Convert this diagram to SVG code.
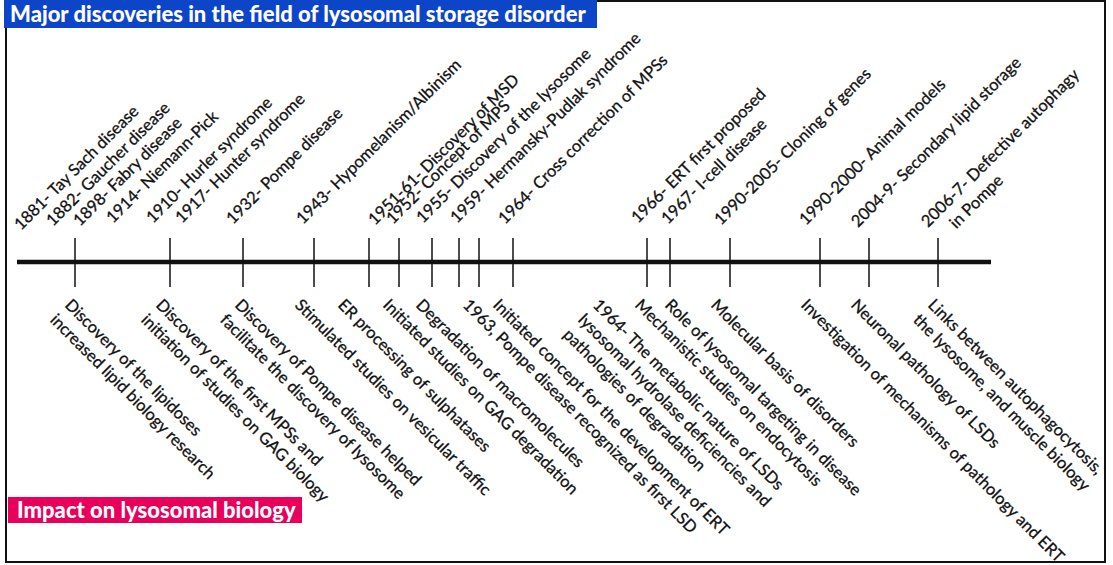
<svg xmlns="http://www.w3.org/2000/svg" width="1113" height="565" viewBox="0 0 1113 565">
<style>
.lbl{font-family:Lato,"Liberation Sans",sans-serif;font-size:16.5px;fill:#111;stroke:#111;stroke-width:0.3}
.hdr{font-family:Lato,"Liberation Sans",sans-serif;font-size:22px;font-weight:900;fill:#fff}
.tick{stroke:#111;stroke-width:1.5}
</style>
<rect x="0" y="0" width="1113" height="565" fill="#fff"/>
<rect x="6" y="1" width="1099" height="561" fill="none" stroke="#111" stroke-width="2"/>
<g id="title-top">
<rect x="4" y="0" width="593" height="28" fill="#0d45c8"/>
<text class="hdr" x="10" y="22">Major discoveries in the field of lysosomal storage disorder</text>
</g>
<g id="title-bottom">
<rect x="8" y="497" width="294" height="26" fill="#e8005a"/>
<text class="hdr" x="17" y="518">Impact on lysosomal biology</text>
</g>
<g id="connectors">
<line x1="17" y1="262" x2="991" y2="262" stroke="#111" stroke-width="4.5"/>
<line class="tick" x1="75" y1="238" x2="75" y2="287"/>
<line class="tick" x1="170" y1="238" x2="170" y2="287"/>
<line class="tick" x1="243" y1="238" x2="243" y2="287"/>
<line class="tick" x1="314" y1="238" x2="314" y2="287"/>
<line class="tick" x1="369" y1="238" x2="369" y2="287"/>
<line class="tick" x1="399" y1="238" x2="399" y2="287"/>
<line class="tick" x1="432" y1="238" x2="432" y2="287"/>
<line class="tick" x1="459" y1="238" x2="459" y2="287"/>
<line class="tick" x1="479" y1="238" x2="479" y2="287"/>
<line class="tick" x1="513" y1="238" x2="513" y2="287"/>
<line class="tick" x1="647" y1="238" x2="647" y2="287"/>
<line class="tick" x1="670" y1="238" x2="670" y2="287"/>
<line class="tick" x1="730" y1="238" x2="730" y2="287"/>
<line class="tick" x1="820" y1="238" x2="820" y2="287"/>
<line class="tick" x1="869" y1="238" x2="869" y2="287"/>
<line class="tick" x1="938" y1="238" x2="938" y2="287"/>
</g>
<g id="top-labels">
<g id="t1881"><text class="lbl" transform="translate(21,231) rotate(-45)">1881- Tay Sach disease</text></g>
<g id="t1882"><text class="lbl" transform="translate(53,227) rotate(-45)">1882- Gaucher disease</text></g>
<g id="t1898"><text class="lbl" transform="translate(80,227) rotate(-45)">1898- Fabry disease</text></g>
<g id="t1914"><text class="lbl" transform="translate(113,224) rotate(-45)">1914- Niemann-Pick</text></g>
<g id="t1910"><text class="lbl" transform="translate(153,224) rotate(-45)">1910- Hurler syndrome</text></g>
<g id="t1917"><text class="lbl" transform="translate(182,224) rotate(-45)">1917- Hunter syndrome</text></g>
<g id="t1932"><text class="lbl" transform="translate(233,225) rotate(-45)">1932- Pompe disease</text></g>
<g id="t1943"><text class="lbl" transform="translate(303,225) rotate(-45)">1943- Hypomelanism/Albinism</text></g>
<g id="t1951"><text class="lbl" transform="translate(375,226) rotate(-45)">1951-61- Discovery of MSD</text></g>
<g id="t1952"><text class="lbl" transform="translate(393,225) rotate(-45)">1952- Concept of MPS</text></g>
<g id="t1955"><text class="lbl" transform="translate(423,224) rotate(-45)">1955- Discovery of the lysosome</text></g>
<g id="t1959"><text class="lbl" transform="translate(457,224) rotate(-45)">1959- Hermansky-Pudlak syndrome</text></g>
<g id="t1964"><text class="lbl" transform="translate(505,225) rotate(-45)">1964- Cross correction of MPSs</text></g>
<g id="t1966"><text class="lbl" transform="translate(638,224) rotate(-45)">1966- ERT first proposed</text></g>
<g id="t1967"><text class="lbl" transform="translate(668,225) rotate(-45)">1967- I-cell disease</text></g>
<g id="t1990a"><text class="lbl" transform="translate(721,226) rotate(-45)">1990-2005- Cloning of genes</text></g>
<g id="t1990b"><text class="lbl" transform="translate(806,226) rotate(-45)">1990-2000- Animal models</text></g>
<g id="t2004"><text class="lbl" transform="translate(858,228) rotate(-45)">2004-9- Secondary lipid storage</text></g>
<g id="t2006"><text class="lbl" transform="translate(928,228) rotate(-45)">2006-7- Defective autophagy<tspan x="19" dy="21">in Pompe</tspan></text></g>
</g>
<g id="bottom-labels">
<g id="b1"><text class="lbl" transform="translate(64,306) rotate(45)">Discovery of the lipidoses<tspan x="0" dy="21">increased lipid biology research</tspan></text></g>
<g id="b2"><text class="lbl" transform="translate(155,306) rotate(45)">Discovery of the first MPSs and<tspan x="0" dy="21">initiation of studies on GAG biology</tspan></text></g>
<g id="b3"><text class="lbl" transform="translate(234,306) rotate(45)">Discovery of Pompe disease helped<tspan x="0" dy="21">facilitate the discovery of lysosome</tspan></text></g>
<g id="b4"><text class="lbl" transform="translate(294,306) rotate(45)">Stimulated studies on vesicular traffic</text></g>
<g id="b5"><text class="lbl" transform="translate(337,306) rotate(45)">ER processing of sulphatases</text></g>
<g id="b6"><text class="lbl" transform="translate(382,306) rotate(45)">Initiated studies on GAG degradation</text></g>
<g id="b7"><text class="lbl" transform="translate(415,306) rotate(45)">Degradation of macromolecules</text></g>
<g id="b8"><text class="lbl" transform="translate(462,306) rotate(45)">1963, Pompe disease recognized as first LSD</text></g>
<g id="b9"><text class="lbl" transform="translate(492,306) rotate(45)">Initiated concept for the development of ERT</text></g>
<g id="b10"><text class="lbl" transform="translate(592,306) rotate(45)">1964- The metabolic nature of LSDs<tspan x="0" dy="21">lysosomal hydrolase deficiencies and</tspan><tspan x="0" dy="21">pathologies of degradation</tspan></text></g>
<g id="b11"><text class="lbl" transform="translate(634,306) rotate(45)">Mechanistic studies on endocytosis</text></g>
<g id="b12"><text class="lbl" transform="translate(664,306) rotate(45)">Role of lysosomal targeting in disease</text></g>
<g id="b13"><text class="lbl" transform="translate(710,306) rotate(45)">Molecular basis of disorders</text></g>
<g id="b14"><text class="lbl" transform="translate(800,306) rotate(45)">Investigation of mechanisms of pathology and ERT</text></g>
<g id="b15"><text class="lbl" transform="translate(850,306) rotate(45)">Neuronal pathology of LSDs</text></g>
<g id="b16"><text class="lbl" transform="translate(927,306) rotate(45)">Links between autophagocytosis,<tspan x="0" dy="21">the lysosome, and muscle biology</tspan></text></g>
</g>
</svg>
